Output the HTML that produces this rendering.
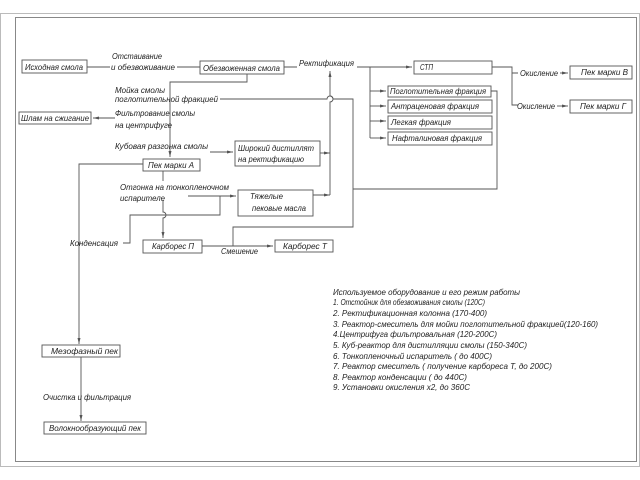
<!DOCTYPE html>
<html><head><meta charset="utf-8"><style>
html,body{margin:0;padding:0;background:#fff;}
svg{display:block}
text{font-family:"Liberation Sans",sans-serif;font-style:italic;font-size:8.6px;fill:#222;}
</style></head><body>
<svg width="640" height="480" viewBox="0 0 640 480" xmlns="http://www.w3.org/2000/svg">
<defs><marker id="a" markerWidth="6" markerHeight="4" refX="6" refY="2" orient="auto" markerUnits="userSpaceOnUse"><path d="M0,0.5 L6,2 L0,3.5z" fill="#555"/></marker></defs>
<rect x="0.5" y="13.5" width="639" height="453" fill="none" stroke="#bbb"/>
<rect x="15.5" y="17.5" width="621" height="444" fill="none" stroke="#888"/>
<g fill="#fff" stroke="#555" stroke-width="0.9">
<rect x="22" y="60" width="65" height="13"/>
<rect x="200" y="61" width="84" height="13"/>
<rect x="19" y="112" width="72" height="12"/>
<rect x="143" y="159" width="57" height="12"/>
<rect x="235" y="141" width="85" height="25"/>
<rect x="238" y="190" width="75" height="26"/>
<rect x="143" y="240" width="59" height="13"/>
<rect x="275" y="240" width="58" height="12"/>
<rect x="414" y="61" width="78" height="13"/>
<rect x="388" y="86" width="103" height="11"/>
<rect x="388" y="100" width="104" height="13"/>
<rect x="388" y="116" width="104" height="13"/>
<rect x="388" y="132" width="104" height="13"/>
<rect x="570" y="66" width="62" height="13"/>
<rect x="570" y="100" width="62" height="13"/>
<rect x="42" y="345" width="78" height="12"/>
<rect x="44" y="422" width="102" height="12"/>
</g>
<g fill="none" stroke="#555" stroke-width="0.9">
<path d="M87 67H110M177 67H200M284 67H297"/>
<path d="M247 74V82H170V157" marker-end="url(#a)"/>
<path d="M115 118H93" marker-end="url(#a)"/>
<path d="M210 152H233" marker-end="url(#a)"/>
<path d="M320 153H330" marker-end="url(#a)"/>
<path d="M313 195H330" marker-end="url(#a)"/>
<path d="M330 195V102A3 3 0 0 0 330 96V71" marker-end="url(#a)"/>
<path d="M220 99H327A3 3 0 0 1 333 99H353V227H233V246"/>
<path d="M143 164H79V344" marker-end="url(#a)"/>
<path d="M163 171V181"/>
<path d="M188 196H236" marker-end="url(#a)"/>
<path d="M220 196V215H130V243H123"/>
<path d="M163 200V212A3 3 0 0 1 163 218V238" marker-end="url(#a)"/>
<path d="M202 246H273" marker-end="url(#a)"/>
<path d="M81 357V421" marker-end="url(#a)"/>
<path d="M357 67H370V138"/>
<path d="M370 67H412" marker-end="url(#a)"/>
<path d="M370 91H386" marker-end="url(#a)"/>
<path d="M370 106H386" marker-end="url(#a)"/>
<path d="M370 121H386" marker-end="url(#a)"/>
<path d="M370 138H386" marker-end="url(#a)"/>
<path d="M491 91H497V189H353"/>
<path d="M492 67H512V105H518M512 73H518"/>
<path d="M560 73H568" marker-end="url(#a)"/>
<path d="M557 106H568" marker-end="url(#a)"/>
</g>
<g lengthAdjust="spacingAndGlyphs">
<text x="25" y="70" textLength="58" lengthAdjust="spacingAndGlyphs">Исходная смола</text>
<text x="112" y="59" textLength="50" lengthAdjust="spacingAndGlyphs">Отстаивание</text>
<text x="111" y="70" textLength="64" lengthAdjust="spacingAndGlyphs">и обезвоживание</text>
<text x="203" y="71" textLength="77" lengthAdjust="spacingAndGlyphs">Обезвоженная смола</text>
<text x="299" y="66" textLength="55" lengthAdjust="spacingAndGlyphs">Ректификация</text>
<text x="115" y="93" textLength="50" lengthAdjust="spacingAndGlyphs">Мойка смолы</text>
<text x="115" y="102" textLength="103" lengthAdjust="spacingAndGlyphs">поглотительной фракцией</text>
<text x="21" y="121" textLength="68" lengthAdjust="spacingAndGlyphs">Шлам на сжигание</text>
<text x="115" y="116" textLength="80" lengthAdjust="spacingAndGlyphs">Фильтрование смолы</text>
<text x="115" y="128" textLength="57" lengthAdjust="spacingAndGlyphs">на центрифуге</text>
<text x="115" y="149" textLength="93" lengthAdjust="spacingAndGlyphs">Кубовая разгонка смолы</text>
<text x="238" y="151" textLength="76" lengthAdjust="spacingAndGlyphs">Широкий дистиллят</text>
<text x="238" y="162" textLength="66" lengthAdjust="spacingAndGlyphs">на ректификацию</text>
<text x="148" y="168" textLength="46" lengthAdjust="spacingAndGlyphs">Пек марки А</text>
<text x="120" y="190" textLength="109" lengthAdjust="spacingAndGlyphs">Отгонка на тонкопленочном</text>
<text x="120" y="201" textLength="45" lengthAdjust="spacingAndGlyphs">испарителе</text>
<text x="250" y="199" textLength="33" lengthAdjust="spacingAndGlyphs">Тяжелые</text>
<text x="252" y="211" textLength="54" lengthAdjust="spacingAndGlyphs">пековые масла</text>
<text x="70" y="246" textLength="48" lengthAdjust="spacingAndGlyphs">Конденсация</text>
<text x="152" y="249" textLength="42" lengthAdjust="spacingAndGlyphs">Карборес П</text>
<text x="221" y="254" textLength="37" lengthAdjust="spacingAndGlyphs">Смешение</text>
<text x="283" y="249" textLength="44" lengthAdjust="spacingAndGlyphs">Карборес Т</text>
<text x="420" y="70" textLength="13" lengthAdjust="spacingAndGlyphs">СТП</text>
<text x="390" y="94" textLength="96" lengthAdjust="spacingAndGlyphs">Поглотительная фракция</text>
<text x="391" y="109" textLength="88" lengthAdjust="spacingAndGlyphs">Антраценовая фракция</text>
<text x="391" y="125" textLength="60" lengthAdjust="spacingAndGlyphs">Легкая фракция</text>
<text x="392" y="141" textLength="90" lengthAdjust="spacingAndGlyphs">Нафталиновая фракция</text>
<text x="520" y="76" textLength="38" lengthAdjust="spacingAndGlyphs">Окисление</text>
<text x="517" y="109" textLength="38" lengthAdjust="spacingAndGlyphs">Окисление</text>
<text x="581" y="75" textLength="47" lengthAdjust="spacingAndGlyphs">Пек марки В</text>
<text x="580" y="109" textLength="46" lengthAdjust="spacingAndGlyphs">Пек марки Г</text>
<text x="51" y="354" textLength="67" lengthAdjust="spacingAndGlyphs">Мезофазный пек</text>
<text x="43" y="400" textLength="88" lengthAdjust="spacingAndGlyphs">Очистка и фильтрация</text>
<text x="49" y="431" textLength="92" lengthAdjust="spacingAndGlyphs">Волокнообразующий пек</text>
<text x="333" y="295" textLength="187" lengthAdjust="spacingAndGlyphs">Используемое оборудование и его режим работы</text>
<text x="333" y="305" textLength="152" lengthAdjust="spacingAndGlyphs">1. Отстойник для обезвоживания смолы (120С)</text>
<text x="333" y="316" textLength="154" lengthAdjust="spacingAndGlyphs">2. Ректификационная колонна (170-400)</text>
<text x="333" y="327" textLength="265" lengthAdjust="spacingAndGlyphs">3. Реактор-смеситель для мойки поглотительной фракцией(120-160)</text>
<text x="333" y="337" textLength="164" lengthAdjust="spacingAndGlyphs">4.Центрифуга фильтровальная (120-200С)</text>
<text x="333" y="348" textLength="194" lengthAdjust="spacingAndGlyphs">5. Куб-реактор для дистилляции смолы (150-340С)</text>
<text x="333" y="359" textLength="159" lengthAdjust="spacingAndGlyphs">6. Тонкопленочный испаритель ( до 400С)</text>
<text x="333" y="369" textLength="219" lengthAdjust="spacingAndGlyphs">7. Реактор смеситель ( получение карбореса Т, до 200С)</text>
<text x="333" y="380" textLength="134" lengthAdjust="spacingAndGlyphs">8. Реактор конденсации ( до 440С)</text>
<text x="333" y="390" textLength="137" lengthAdjust="spacingAndGlyphs">9. Установки окисления х2, до 360С</text>
</g>
</svg>
</body></html>
